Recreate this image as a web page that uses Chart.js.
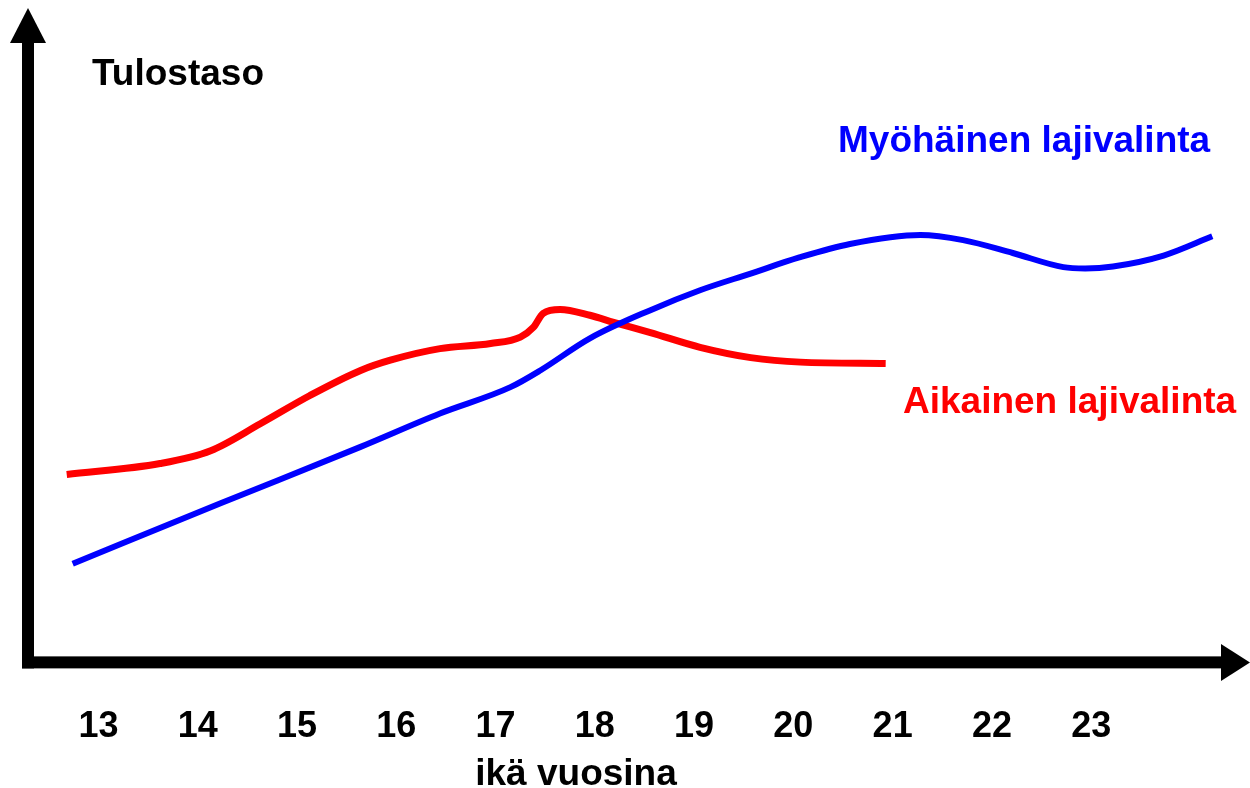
<!DOCTYPE html>
<html>
<head>
<meta charset="utf-8">
<script src="https://cdn.jsdelivr.net/npm/chart.js@4"></script>
<style>
  html, body { margin: 0; padding: 0; background: #ffffff; }
  #wrap { width: 1250px; height: 788px; }
</style>
</head>
<body>
<div id="wrap"><canvas id="c" width="1250" height="788"></canvas></div>
<script>
// ---- data ----
const ageTicks = [13, 14, 15, 16, 17, 18, 19, 20, 21, 22, 23];
const ageTickLabels = ['13', '14', '15', '16', '17', '18', '19', '20', '21', '22', '23'];

// Myöhäinen lajivalinta (late specialisation)
const lateAges   = [12.74, 14.23, 15.64, 16.44, 17.15, 17.45, 17.95, 18.56, 19.06, 19.57, 20.06, 20.57, 21.28, 21.71, 22.21, 22.72, 22.94, 23.22, 23.73, 24.22];
const lateLevels = [15.3, 24.7, 33.5, 38.7, 42.8, 45.4, 50.4, 54.8, 57.9, 60.5, 63.0, 65.1, 66.5, 65.7, 63.7, 61.5, 61.3, 61.6, 63.3, 66.3];

// Aikainen lajivalinta (early specialisation)
const earlyAges   = [12.68, 13.62, 14.13, 14.63, 15.13, 15.64, 15.94, 16.44, 16.95, 17.25, 17.38, 17.48, 17.65, 17.95, 18.19, 18.56, 19.06, 19.57, 20.07, 20.93];
const earlyLevels = [29.2, 30.9, 32.9, 37.1, 41.5, 45.4, 47.0, 48.8, 49.6, 50.6, 52.1, 54.3, 54.9, 54.0, 52.9, 51.3, 49.0, 47.4, 46.7, 46.5];

const seriesNames = ['Myöhäinen lajivalinta', 'Aikainen lajivalinta'];
const seriesColors = ['#0000ff', '#ff0000'];
const yAxisLabel = 'Tulostaso';
const xAxisLabel = 'ikä vuosina';

const toPoints = (xs, ys) => xs.map((x, i) => ({ x: x, y: ys[i] }));

const FONT = '"Liberation Sans", Arial, Helvetica, sans-serif';

// ---- custom drawing: arrow axes and text labels ----
const decorPlugin = {
  id: 'decor',
  afterDatasetsDraw(chart) {
    const ctx = chart.ctx;
    const ca = chart.chartArea;
    const ox = ca.left;          // axis origin x
    const oy = ca.bottom + 0.5;  // axis origin y
    const w = 12;
    ctx.save();
    ctx.fillStyle = '#000000';
    // vertical axis
    ctx.fillRect(ox - w / 2, 40, w, oy - 40 + w / 2);
    // horizontal axis
    ctx.fillRect(ox - w / 2, oy - w / 2, 1222 - (ox - w / 2), w);
    // top arrow head
    ctx.beginPath();
    ctx.moveTo(ox - 18, 43);
    ctx.lineTo(ox + 18, 43);
    ctx.lineTo(ox, 8);
    ctx.closePath();
    ctx.fill();
    // right arrow head
    ctx.beginPath();
    ctx.moveTo(1221, oy - 18.5);
    ctx.lineTo(1221, oy + 18.5);
    ctx.lineTo(1250, oy);
    ctx.closePath();
    ctx.fill();

    // texts
    ctx.font = 'bold 37px ' + FONT;
    ctx.textBaseline = 'alphabetic';
    ctx.textAlign = 'left';
    ctx.fillStyle = '#000000';
    ctx.fillText(yAxisLabel, 92, 85);
    ctx.textAlign = 'center';
    ctx.fillText(xAxisLabel, 576, 785);
    ctx.textAlign = 'left';
    ctx.fillStyle = seriesColors[0];
    ctx.fillText(seriesNames[0], 838, 152);
    ctx.fillStyle = seriesColors[1];
    ctx.fillText(seriesNames[1], 903, 413);
    ctx.restore();
  }
};

new Chart(document.getElementById('c'), {
  type: 'line',
  data: {
    datasets: [
      {
        label: seriesNames[0],
        data: toPoints(lateAges, lateLevels),
        borderColor: seriesColors[0],
        borderWidth: 6,
        borderCapStyle: 'butt',
        pointRadius: 0,
        fill: false,
        cubicInterpolationMode: 'monotone',
        clip: false
      },
      {
        label: seriesNames[1],
        data: toPoints(earlyAges, earlyLevels),
        borderColor: seriesColors[1],
        borderWidth: 7,
        borderCapStyle: 'butt',
        pointRadius: 0,
        fill: false,
        cubicInterpolationMode: 'monotone',
        clip: false
      }
    ]
  },
  options: {
    responsive: false,
    animation: false,
    layout: { padding: { left: 28, top: 20, right: 0, bottom: -5 } },
    plugins: {
      legend: { display: false },
      tooltip: { enabled: false }
    },
    scales: {
      x: {
        type: 'linear',
        min: 12.29,
        max: 24.6,
        grid: { display: false, drawTicks: false },
        border: { display: false },
        afterBuildTicks(scale) {
          scale.ticks = ageTicks.map(v => ({ value: v }));
        },
        ticks: {
          padding: 49,
          color: '#000000',
          maxRotation: 0,
          autoSkip: false,
          font: { family: FONT, size: 36, weight: 'bold', lineHeight: 0.92 },
          callback: (v) => {
            const i = ageTicks.indexOf(v);
            return i >= 0 ? ageTickLabels[i] : '';
          }
        },
        title: { display: false }
      },
      y: {
        display: false,
        min: 0,
        max: 100
      }
    }
  },
  plugins: [decorPlugin]
});
</script>
</body>
</html>
